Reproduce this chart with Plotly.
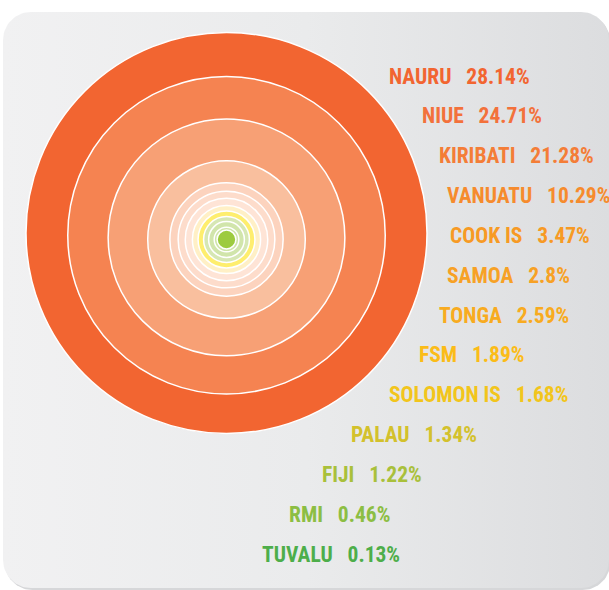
import numpy as np
import plotly.graph_objects as go

# ---------------- data ----------------
countries = ["NAURU", "NIUE", "KIRIBATI", "VANUATU", "COOK IS", "SAMOA", "TONGA",
             "FSM", "SOLOMON IS", "PALAU", "FIJI", "RMI", "TUVALU"]
shares = [28.14, 24.71, 21.28, 10.29, 3.47, 2.8, 2.59, 1.89, 1.68, 1.34, 1.22, 0.46, 0.13]

# ---------------- styles ----------------
label_colors = ["#F26531", "#F3713B", "#F47D37", "#F68B2D", "#F79A24", "#F7A125", "#F8AB20",
                "#FBBC18", "#F2C51C", "#D3C12C", "#A9C03B", "#8CBE43", "#4DAE4A"]
ring_colors = ["#F26531", "#F58351", "#F7A075", "#F9BF9E", "#FCD3BE", "#FDDCCB", "#FEE4D6",
               "#FFF0C6", "#FEEE6E", "#D6E7B4", "#D1E5AB", "#CFE4A8", "#9DCB3F"]

W, H = 609, 590
CX, CY = 226.5, 233.0
R_OUTER, R_CORE, POWER = 200.5, 8.0, 0.74
INNER_DROP = 6.5          # inner rings sit slightly lower than the outer one
LABEL_X = [387, 420, 437, 445, 448, 445, 437, 417, 387, 349, 320, 287, 260]
LABEL_Y0, LABEL_STEP = 76.0, 39.85
FONT = "Roboto Condensed, Noto Sans Condensed, Roboto, sans-serif"
FONT_SIZE = 21.5

shares_arr = np.array(shares)
cum = np.cumsum(shares_arr[::-1])[::-1]          # cumulative share from innermost
radii = R_CORE + (R_OUTER - R_CORE) * (cum / cum[0]) ** POWER

fig = go.Figure()

# background rounded panel
BX0, BX1, BY0, BY1, RC = 3, 609, 12, 588, 28
def arc(cx, cy, a0, a1, n=20):
    t = np.linspace(a0, a1, n)
    return cx + RC * np.cos(t), cy + RC * np.sin(t)
pts = [arc(BX0 + RC, BY0 + RC, np.pi, 1.5 * np.pi),
       arc(BX1 - RC, BY0 + RC, 1.5 * np.pi, 2 * np.pi),
       arc(BX1 - RC, BY1 - RC, 0, 0.5 * np.pi),
       arc(BX0 + RC, BY1 - RC, 0.5 * np.pi, np.pi)]
px = np.concatenate([p[0] for p in pts] + [pts[0][0][:1]])
py = np.concatenate([p[1] for p in pts] + [pts[0][1][:1]])
fig.add_trace(go.Scatter(x=px + 1.5, y=py + 2, mode="lines", fill="toself",
                         fillcolor="#D6D7D9", line=dict(width=0), hoverinfo="skip",
                         showlegend=False))
fig.add_trace(go.Scatter(x=px, y=py, mode="lines", fill="toself",
                         fillgradient=dict(type="horizontal",
                                           colorscale=[[0, "#F1F1F2"], [0.5, "#EAEBEC"], [1, "#DCDDDF"]]),
                         line=dict(width=0), hoverinfo="skip", showlegend=False))

shapes = []
for r, c in zip(radii, ring_colors):
    drop = INNER_DROP * min(1.0, (1 - r / R_OUTER) / 0.6)
    cy = CY + drop
    shapes.append(dict(type="circle", xref="x", yref="y",
                       x0=CX - r, x1=CX + r, y0=cy - r, y1=cy + r,
                       fillcolor=c, line=dict(color="white", width=1.5), layer="above"))

annotations = []
for i, (name, v, col) in enumerate(zip(countries, shares, label_colors)):
    annotations.append(dict(
        x=LABEL_X[i], y=LABEL_Y0 + i * LABEL_STEP, xref="x", yref="y",
        xanchor="left", yanchor="middle", showarrow=False,
        text=f"<b>{name}</b>&nbsp;&nbsp;&nbsp;<b>{v:g}%</b>",
        font=dict(family=FONT, size=FONT_SIZE, color=col)))

fig.update_layout(
    width=W, height=H, margin=dict(l=0, r=0, t=0, b=0),
    paper_bgcolor="white", plot_bgcolor="white",
    xaxis=dict(range=[0, W], visible=False, fixedrange=True),
    yaxis=dict(range=[H, 0], visible=False, fixedrange=True),
    shapes=shapes, annotations=annotations, showlegend=False,
)

fig.write_html("out.html", config={"displayModeBar": False},
               post_script="document.body.style.margin='0';document.body.style.overflow='hidden';")
